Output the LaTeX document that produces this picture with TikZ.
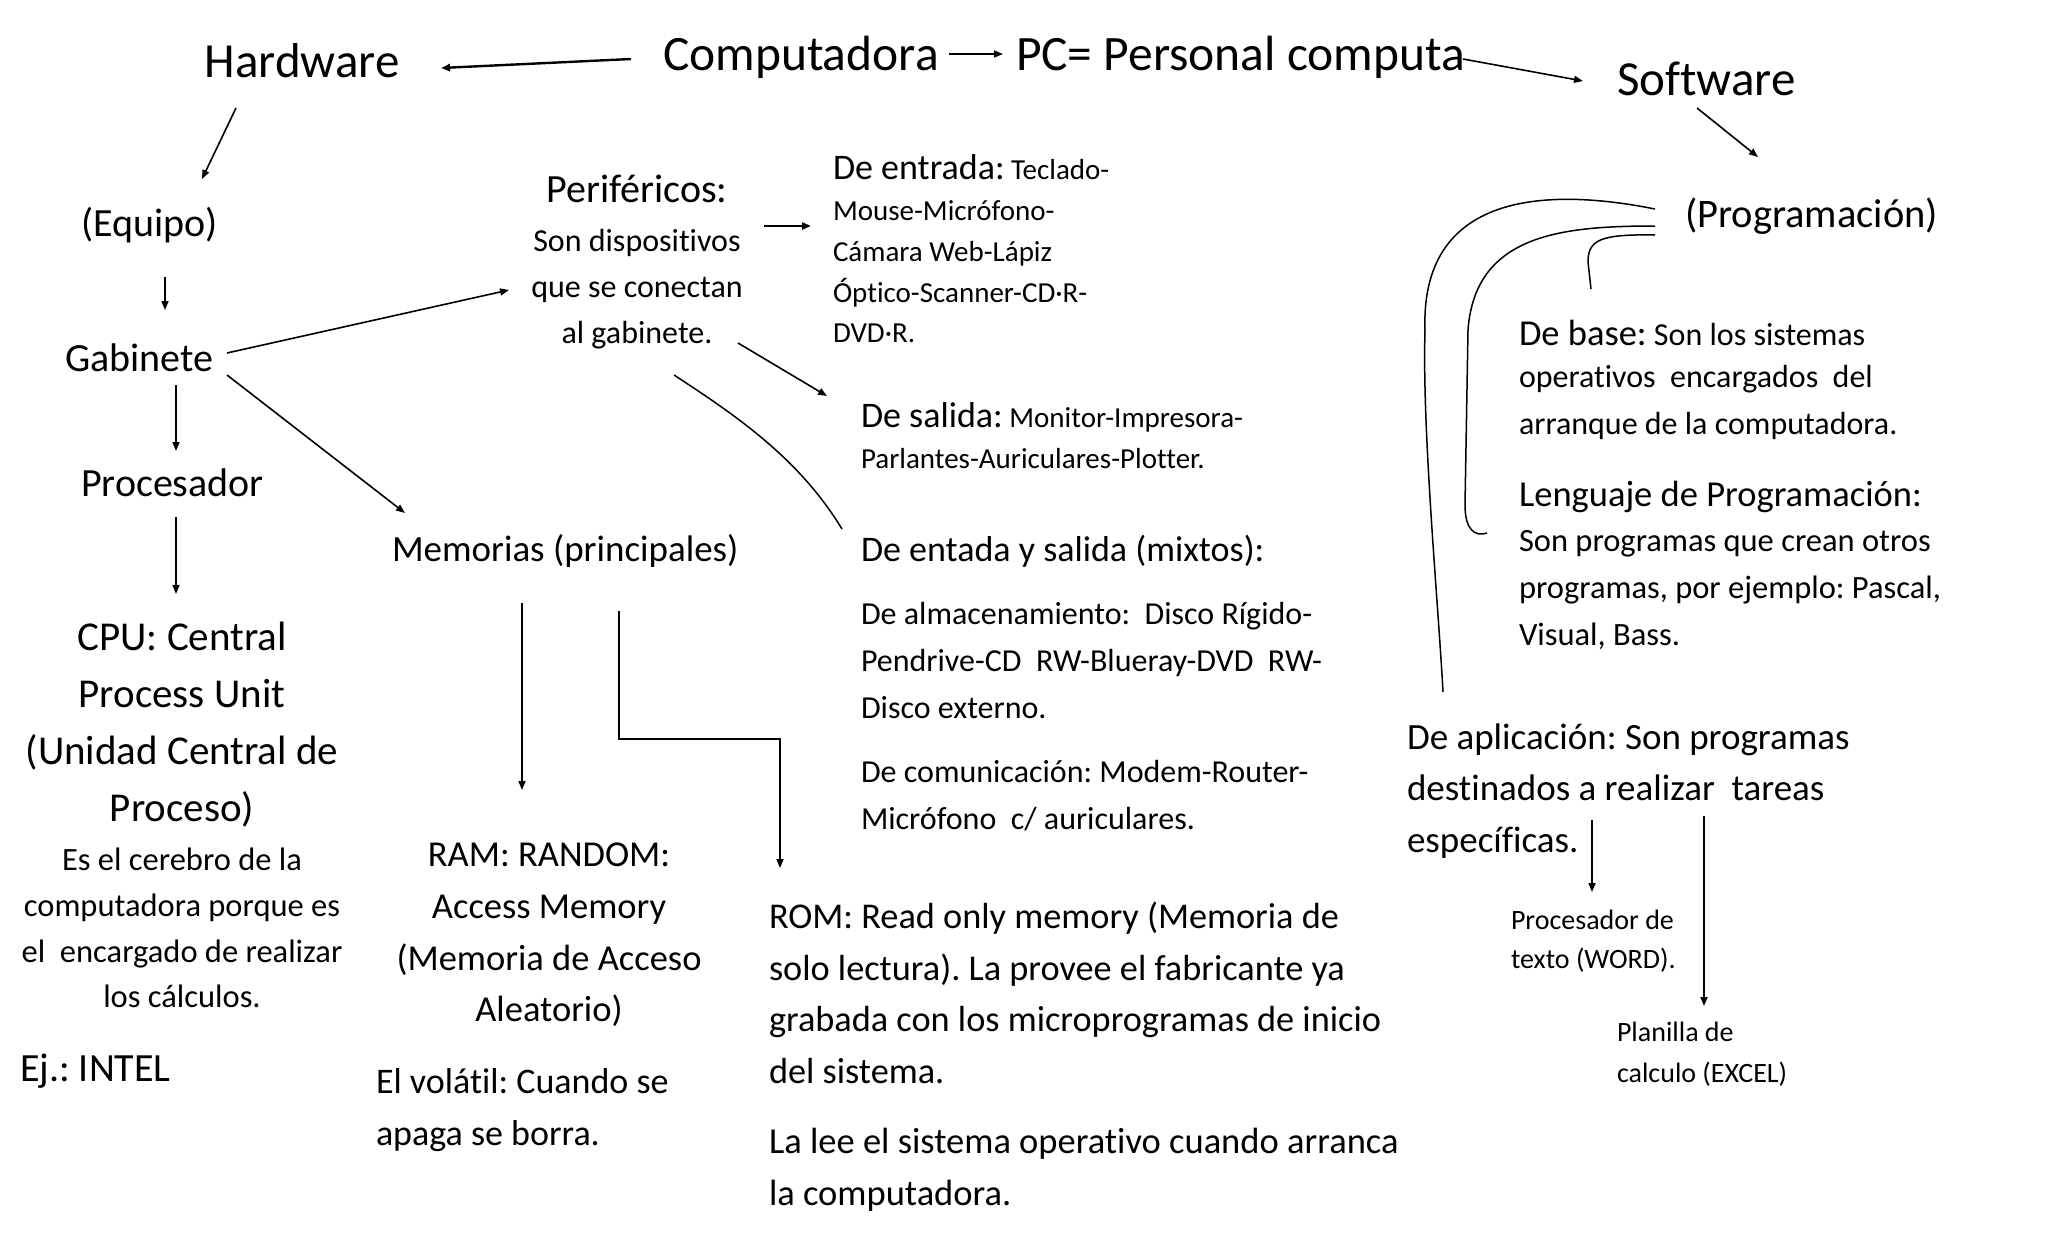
\documentclass[tikz,border=0pt]{standalone}
\usepackage{fontspec}
\setmainfont{Carlito}[Ligatures=NoCommon]
\usetikzlibrary{arrows.meta,calc}
\frenchspacing
\newcommand\fz[2]{\fontsize{#1}{#2}\selectfont}
\tikzset{
  txt/.style={inner sep=0pt, outer sep=0pt},
  arr/.style={line width=1.6pt, -{Triangle[length=9pt,width=7pt]}},
  thk/.style={line width=2.4pt},
  crv/.style={line width=1.5pt},
}
\begin{document}
\begin{tikzpicture}[x=1pt,y=-1pt]
\useasboundingbox (0,0) rectangle (2048,1243);
\fill[white] (0,0) rectangle (2048,1243);
% top row
\node[txt,font=\fz{49}{58}] (hw) at (302,61) {Hardware};
\node[txt,anchor=west,font=\fz{49.5}{58}] (comp) at (663,57) {Computadora};
\node[txt,anchor=west,font=\fz{49.5}{58}] (pc) at (1016,57) {PC= Personal computa};
\node[txt,anchor=west,font=\fz{49}{58}] (sw) at (1617,79) {Software};
% left column
\node[txt,anchor=west,font=\fz{40}{48}] (equipo) at (81,225) {(Equipo)};
\node[txt,anchor=west,font=\fz{40}{48}] (gab) at (65,358) {Gabinete};
\node[txt,anchor=west,font=\fz{40}{48}] (proc) at (81,483) {Procesador};
\node[txt,align=center,font=\fz{41}{57}] (cpu) at (182,725) {CPU: Central\\Process Unit\\(Unidad Central de\\Proceso)};
\node[txt,align=center,font=\fz{32.5}{45.7}] (cpud) at (182,928) {Es el cerebro de la\\computadora porque es\\el\ \ encargado de realizar\\los cálculos.};
\node[txt,anchor=west,font=\fz{40}{48}] (ej) at (20,1071) {Ej.: INTEL};
% peripherals
\node[txt,font=\fz{40}{48}] (perif) at (637,189) {Periféricos:};
\node[txt,align=center,font=\fz{32}{46}] (perifd) at (637,289) {Son dispositivos\\que se conectan\\al gabinete.};
\node[txt,anchor=west,font=\fz{29}{41}] (entr1) at (833,167) {{\fz{36}{41}De entrada:} Teclado-};
\node[txt,anchor=west,align=left,font=\fz{29}{40.7}] (entr2) at (833,272) {Mouse-Micrófono-\\Cámara Web-Lápiz\\Óptico-Scanner-CD·R-\\DVD·R.};
\node[txt,anchor=west,font=\fz{29}{41}] (sal1) at (861,417) {{\fz{36}{41}De salida:} Monitor-Impresora-};
\node[txt,anchor=west,font=\fz{29}{41}] (sal2) at (861,459) {Parlantes-Auriculares-Plotter.};
\node[txt,anchor=west,font=\fz{36}{48}] (mixtos) at (861,551) {De entada y salida (mixtos):};
\node[txt,anchor=west,align=left,font=\fz{32}{47}] (almac) at (861,661) {De almacenamiento:\ \ Disco Rígido-\\Pendrive-CD\ \ RW-Blueray-DVD\ \ RW-\\Disco externo.};
\node[txt,anchor=west,align=left,font=\fz{32}{47}] (comun) at (861,796) {De comunicación: Modem-Router-\\Micrófono\ \ c/ auriculares.};
% memories
\node[txt,anchor=west,font=\fz{37}{48}] (mem) at (392,551) {Memorias (principales)};
\node[txt,align=center,font=\fz{36.5}{51.7}] (ram) at (549,935) {RAM: RANDOM:\\Access Memory\\(Memoria de Acceso\\Aleatorio)};
\node[txt,anchor=west,align=left,font=\fz{36}{52}] (vol) at (376,1110) {El volátil: Cuando se\\apaga se borra.};
\node[txt,anchor=west,align=left,font=\fz{36.3}{51.7}] (rom) at (769,993) {ROM: Read only memory (Memoria de\\solo lectura). La provee el fabricante ya\\grabada con los microprogramas de inicio\\del sistema.};
\node[txt,anchor=west,align=left,font=\fz{36.5}{52}] (romb) at (769,1170) {La lee el sistema operativo cuando arranca\\la computadora.};
% software
\node[txt,anchor=west,font=\fz{40.5}{48}] (prog) at (1685,216) {(Programación)};
\node[txt,anchor=west,font=\fz{32}{45}] (base1) at (1519,333) {{\fz{36.5}{45}De base:} Son los sistemas};
\node[txt,anchor=west,align=left,font=\fz{32}{47}] (base2) at (1519,402) {operativos\ \ encargados\ \ del\\arranque de la computadora.};
\node[txt,anchor=west,font=\fz{36.5}{47}] (leng1) at (1519,497) {Lenguaje de Programación:};
\node[txt,anchor=west,align=left,font=\fz{32.5}{47}] (leng2) at (1519,590) {Son programas que crean otros\\programas, por ejemplo: Pascal,\\Visual, Bass.};
\node[txt,anchor=west,align=left,font=\fz{37}{51.5}] (aplic) at (1407,791) {De aplicación: Son programas\\destinados a realizar\ \ tareas\\específicas.};
\node[txt,anchor=west,align=left,font=\fz{28}{39}] (word) at (1511,941) {Procesador de\\texto (WORD).};
\node[txt,anchor=west,align=left,font=\fz{28}{41}] (excel) at (1617,1054) {Planilla de\\calculo (EXCEL)};
% connectors
\draw[arr,thk] ([shift={(-32,2)}]comp.west) -- ([shift={(139,7)}]hw.center);
\draw[arr] ([shift={(286,-3)}]comp.west) -- ([shift={(-13,-3)}]pc.west);
\draw[arr] ([shift={(447,2)}]pc.west) -- ([shift={(-34,2)}]sw.west);
\draw[arr] ([shift={(80,29)}]sw.west) -- ([shift={(73,-59)}]prog.west);
\draw[arr] ([shift={(-66,47)}]hw.center) -- ([shift={(121,-46)}]equipo.west);
\draw[arr] ([shift={(84,52)}]equipo.west) -- ([shift={(100,-48)}]gab.west);
\draw[arr] ([shift={(111,27)}]gab.west) -- ([shift={(95,-32)}]proc.west);
\draw[arr] ([shift={(162,-5)}]gab.west) -- ([shift={(-128,1)}]perifd.center);
\draw[arr] ([shift={(162,17)}]gab.west) -- ([shift={(13,-38)}]mem.west);
\draw[arr] ([shift={(95,34)}]proc.west) -- ([shift={(-6,-131)}]cpu.center);
\draw[arr,thk] ([shift={(127,-63)}]perifd.center) -- ([shift={(-22,-46)}]entr2.west);
\draw[arr] ([shift={(101,54)}]perifd.center) -- ([shift={(-34,-21)}]sal1.west);
\draw[crv] ([shift={(37,86)}]perifd.center) .. controls +(66,43) and +(-42,-69) .. ([shift={(-19,-22)}]mixtos.west);
\draw[arr] ([shift={(130,52)}]mem.west) -- ([shift={(-27,-145)}]ram.center);
\draw[arr] ([shift={(227,60)}]mem.west) |- ([shift={(11,-254)}]rom.west) -- ([shift={(11,-125)}]rom.west);
\draw[arr] ([shift={(185,29)}]aplic.west) -- ([shift={(81,-49)}]word.west);
\draw[arr] ([shift={(297,25)}]aplic.west) -- ([shift={(87,-48)}]excel.west);
% brace-like curves from (Programación)
\draw[crv] ([shift={(-30,-7)}]prog.west) .. controls +(-95,-19) and +(-5,-145) .. ([shift={(-260,114)}]prog.west) .. controls +(-3,100) and +(-5,-92) .. ([shift={(-242,476)}]prog.west);
\draw[crv] ([shift={(-30,10)}]prog.west) .. controls +(-95,0) and +(7,-95) .. ([shift={(-217,114)}]prog.west) -- ([shift={(-220,289)}]prog.west) .. controls +(0,25) and +(-12,4) .. ([shift={(-198,317)}]prog.west);
\draw[crv] ([shift={(-30,19)}]prog.west) .. controls +(-55,-1) and +(0,-22) .. ([shift={(-97,46)}]prog.west) -- ([shift={(-94,73)}]prog.west);
\end{tikzpicture}
\end{document}
